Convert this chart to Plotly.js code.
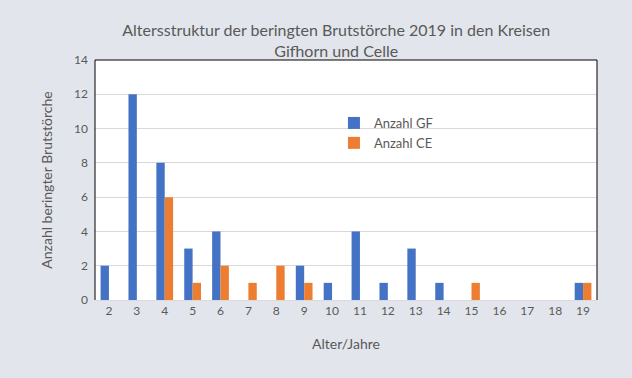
<!DOCTYPE html>
<html><head><meta charset="utf-8">
<script src="https://cdn.plot.ly/plotly-3.0.1.min.js"></script>
<style>html,body{margin:0;padding:0;background:#E2E6EC}</style>
</head><body><div id="c" style="width:632px;height:378px"></div>
<script>
const ages = ['2','3','4','5','6','7','8','9','10','11','12','13','14','15','16','17','18','19'];
const anzahlGF = [2,12,8,3,4,0,0,2,1,4,1,3,1,0,0,0,0,1];
const anzahlCE = [0,0,6,1,2,1,2,1,0,0,0,0,0,1,0,0,0,1];
const grey = '#595959';
const data = [
  {type:'bar', name:'Anzahl GF', x:ages, y:anzahlGF, marker:{color:'#4472C4'}},
  {type:'bar', name:'Anzahl CE', x:ages, y:anzahlCE, marker:{color:'#ED7D31'}}
];
const layout = {
  width:632, height:378,
  paper_bgcolor:'#E2E6EC', plot_bgcolor:'#FFFFFF',
  margin:{l:95, r:35, t:60, b:78},
  font:{family:'Lato, "Open Sans", sans-serif', color:grey, size:12},
  title:{text:'Altersstruktur der beringten Brutstörche 2019 in den Kreisen<br>Gifhorn und Celle',
         x:0.532, xanchor:'center', y:0.905, yanchor:'top', font:{size:16, color:grey}},
  barmode:'group', bargap:0.4, bargroupgap:0,
  xaxis:{type:'category', showgrid:false, showline:true, linecolor:'#D9D9D9', linewidth:1,
         ticks:'', tickfont:{size:12, color:grey},
         title:{text:'Alter/Jahre', font:{size:14, color:grey}, standoff:21}},
  yaxis:{range:[0,14], dtick:2, showgrid:true, gridcolor:'#D9D9D9', zeroline:false,
         ticks:'', tickfont:{size:12, color:grey}, ticklabelstandoff:6,
         title:{text:'Anzahl beringter Brutstörche', font:{size:14, color:grey}, standoff:18}},
  legend:{x:0.476, y:0.8, xanchor:'left', yanchor:'top', bgcolor:'rgba(0,0,0,0)',
          font:{size:13, color:grey}, itemwidth:30},
  shapes:[
    {type:'line', xref:'paper', yref:'paper', x0:0, x1:1, y0:1, y1:1, line:{color:'#000', width:1}},
    {type:'line', xref:'paper', yref:'paper', x0:0, x1:0, y0:0, y1:1, line:{color:'#000', width:1}},
    {type:'line', xref:'paper', yref:'paper', x0:1, x1:1, y0:0, y1:1, line:{color:'#000', width:1}}
  ]
};
Plotly.newPlot('c', data, layout, {displayModeBar:false, staticPlot:true});
</script></body></html>
